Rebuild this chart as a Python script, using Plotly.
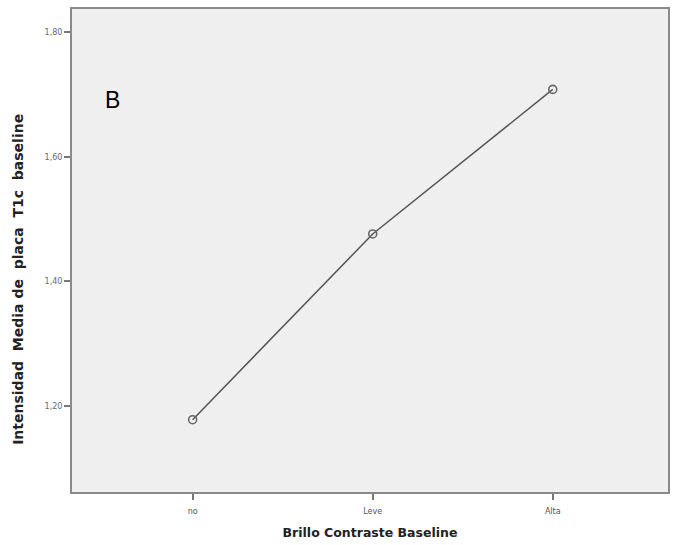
import plotly.graph_objects as go

categories = ["no", "Leve", "Alta"]
means = [1.178, 1.476, 1.708]
y_ticks = [1.2, 1.4, 1.6, 1.8]

fig = go.Figure()
fig.add_trace(go.Scatter(
    x=categories, y=means, mode="lines+markers",
    line=dict(color="#555555", width=1.5),
    marker=dict(symbol="circle-open", size=8, color="#666666", line=dict(width=1.6)),
    showlegend=False, hoverinfo="skip",
))

fig.add_annotation(
    text="B", xref="paper", yref="paper", x=0.052, y=0.812,
    xanchor="left", yanchor="middle", showarrow=False,
    font=dict(family="Liberation Sans, Arial", size=23, color="#000000"),
)
fig.add_annotation(
    text="<b>Intensidad  Media de  placa  T1c  baseline</b>",
    xref="paper", yref="paper", x=-0.09, y=0.44, xanchor="center", yanchor="middle",
    textangle=-90, showarrow=False,
    font=dict(family="DejaVu Sans, Liberation Sans", size=14, color="#222222"),
)

fig.update_layout(
    width=673, height=545,
    margin=dict(l=72, r=3, t=9, b=53),
    paper_bgcolor="#ffffff", plot_bgcolor="#efefef",
    separators=",.",
    font=dict(family="DejaVu Sans, Liberation Sans", color="#333333"),
)
fig.update_xaxes(
    type="category", range=[-0.67, 2.64],
    showgrid=False, zeroline=False,
    showline=True, linecolor="#8a8a8a", linewidth=2, mirror=True,
    ticks="outside", ticklen=6, tickcolor="#777777", tickwidth=1.5,
    tickfont=dict(size=8, color="#555555"), ticklabelstandoff=4,
    title=dict(text="<b>Brillo Contraste Baseline</b>", font=dict(size=12.5, color="#222222"), standoff=14),
)
fig.update_yaxes(
    range=[1.062, 1.837],
    tickvals=y_ticks, tickformat=".2f",
    showgrid=False, zeroline=False,
    showline=True, linecolor="#8a8a8a", linewidth=2, mirror=True,
    ticks="outside", ticklen=6, tickcolor="#777777", tickwidth=1.5,
    tickfont=dict(size=8, color="#666677"),
)

fig.write_html("out.html")
